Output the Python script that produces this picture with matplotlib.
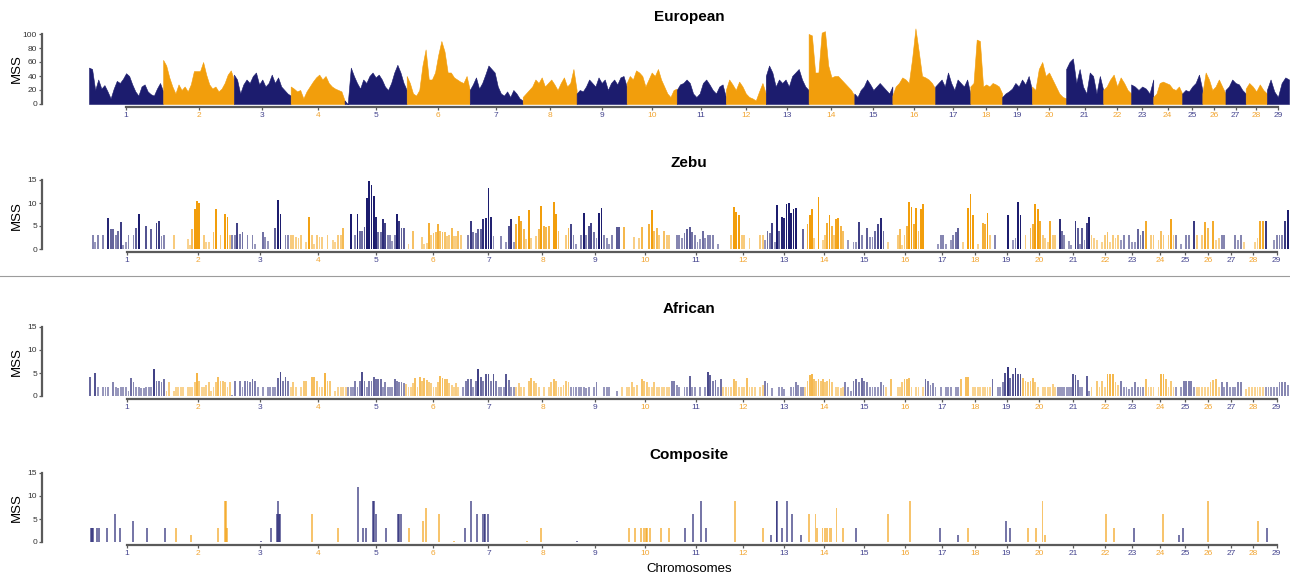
import numpy as np
import matplotlib.pyplot as plt
from matplotlib.colors import to_rgba
from matplotlib.lines import Line2D

plt.rcParams['font.family'] = ['Liberation Sans', 'DejaVu Sans']

NAVY, ORANGE = "#1C1C6E", "#F29E0C"
TICK_NAVY, TICK_ORANGE = "#45458F", "#F2A531"
AXIS_C = "#5A5A5A"

CHROMS = list(range(1, 30))
# chromosome lengths (Mb) used by the Zebu / African / Composite scans
CHR_LEN = np.array([158.5, 136.2, 121.0, 120.0, 120.1, 117.8, 110.7, 113.3, 105.5, 103.3,
                    107.0, 87.2, 83.5, 82.4, 85.0, 81.7, 73.2, 65.8, 63.4, 72.0,
                    69.9, 60.8, 52.5, 62.3, 42.4, 52.0, 45.6, 45.9, 51.1])
# the European scan has its own (window based) chromosome extents
EUR_CHR_LEN = np.array([154, 147, 118, 112, 129, 131, 110, 112, 104, 104, 102, 83, 89, 95, 79,
                        89, 73, 66, 62, 71, 77, 58, 46, 60, 42, 48, 42, 44, 46])

# European MSS profile, evenly spaced samples along each chromosome
EUR_MSS = [
    [52, 50, 20, 35, 22, 27, 18, 8, 22, 33, 30, 36, 44, 40, 28, 18, 12, 25, 28, 18, 14, 12, 22, 30, 18],
    [63, 55, 38, 25, 15, 28, 20, 25, 18, 28, 47, 47, 47, 60, 42, 28, 22, 25, 18, 22, 30, 42, 48, 35],
    [42, 35, 15, 28, 35, 30, 40, 45, 28, 35, 25, 30, 42, 30, 38, 25, 20, 15, 12],
    [25, 22, 18, 20, 8, 18, 25, 32, 38, 42, 35, 40, 30, 25, 22, 20, 18, 5],
    [5, 0, 52, 40, 30, 22, 35, 30, 40, 45, 38, 42, 35, 25, 20, 30, 45, 56, 45, 30, 20],
    [40, 30, 15, 12, 20, 55, 78, 35, 35, 45, 70, 90, 75, 45, 45, 38, 35, 32, 30, 40, 20],
    [20, 28, 38, 22, 30, 42, 55, 50, 45, 25, 15, 12, 18, 10, 20, 15, 8, 5],
    [10, 15, 20, 25, 35, 30, 38, 25, 30, 35, 28, 20, 30, 38, 25, 30, 50, 20],
    [15, 20, 18, 25, 35, 30, 25, 38, 30, 35, 20, 30, 35, 28, 38, 40, 25],
    [30, 40, 35, 48, 45, 40, 25, 35, 45, 40, 50, 35, 25, 15, 10, 20, 22],
    [20, 28, 30, 35, 30, 15, 10, 15, 30, 35, 28, 20, 15, 25, 28, 10],
    [20, 35, 28, 20, 32, 25, 15, 10, 8, 5, 18, 30, 15],
    [40, 55, 45, 25, 35, 30, 35, 25, 40, 45, 50, 35, 25, 20],
    [100, 98, 45, 45, 102, 104, 55, 38, 40, 40, 35, 30, 25, 20, 12],
    [15, 10, 20, 25, 35, 28, 20, 25, 30, 25, 20, 15, 25],
    [12, 25, 30, 38, 35, 30, 65, 108, 75, 40, 38, 35, 30, 22],
    [25, 30, 35, 25, 45, 30, 20, 35, 30, 25, 35, 15],
    [25, 30, 92, 90, 25, 28, 25, 30, 28, 25, 15],
    [10, 15, 18, 22, 30, 25, 35, 28, 40, 20],
    [25, 20, 50, 60, 40, 45, 35, 25, 15, 10, 8],
    [50, 60, 65, 30, 50, 25, 15, 45, 40, 15, 40, 20],
    [20, 25, 35, 42, 25, 38, 30, 20, 15],
    [28, 25, 20, 25, 22, 15, 35],
    [10, 15, 30, 32, 30, 28, 22, 20, 25, 15],
    [15, 20, 18, 25, 30, 42, 20],
    [15, 45, 35, 20, 25, 35, 25, 15],
    [20, 25, 35, 30, 28, 20, 15],
    [22, 30, 25, 18, 28, 20, 15],
    [20, 35, 18, 10, 30, 38, 35],
]

# Zebu MSS, consecutive windows along each chromosome (0 = no signal)
ZEBU_MSS = [
    [0, 3, 1.6, 3, 0, 3, 0, 6.8, 4.3, 4.3, 3, 4, 5.9, 0.8, 1.6, 3, 0, 3, 4.5, 7.6, 0, 0, 5, 0, 4.4, 0, 5.7, 6.1, 2.8, 3],
    [0, 0, 0, 3, 0, 0, 0, 0, 0, 2.2, 0.9, 4.3, 8.7, 10.5, 10.1, 0, 3, 1.6, 1.6, 0, 3.8, 8.6, 0, 3, 0, 7.6, 7, 3],
    [3, 3, 5.7, 3.2, 3.8, 0, 3, 0, 3, 1, 0, 0, 3.8, 2.7, 1.8, 0, 0, 4.5, 10.7, 7.7, 0, 3, 3],
    [3, 3, 2.7, 2.5, 3, 0, 1.6, 6.9, 3, 1, 3, 2.7, 2.7, 0, 3, 0, 2, 1.6, 3, 3, 4.5, 0],
    [0, 7.7, 0, 3, 7.6, 4, 4, 4.7, 11, 14.8, 14, 11.5, 7, 3.8, 3.8, 6.5, 5.7, 3, 3, 1.7, 3, 7.7, 6, 4.5, 4.6],
    [0, 1, 0, 3.9, 0, 0, 0, 2.7, 1, 1.2, 5.7, 3, 3.5, 3.8, 5.5, 4, 3.8, 3.8, 2.8, 3, 4.5, 2.8, 2.8, 4, 3],
    [0, 0, 3, 6, 3.8, 3.4, 4.4, 4.4, 6.5, 6.8, 13.2, 7, 2.8, 0, 0, 2.8, 0, 1.6, 5, 6.5, 1.6],
    [5.4, 7.2, 6, 4.4, 2.2, 8.5, 2.5, 0, 2.8, 4.4, 9.3, 5, 4.7, 5, 0, 10.3, 7.7, 4, 0, 0, 3, 4.5],
    [5.5, 3, 1, 0, 3, 7.8, 3, 5, 5.6, 3.7, 2.5, 7.8, 8.9, 3, 2.5, 1, 3, 0, 4.8, 4.8],
    [0, 4.8, 0, 0, 0, 2.7, 0, 2.5, 4.8, 0, 0, 5.4, 8.5, 4, 4.5, 3, 0, 4, 3, 3],
    [0, 0, 3, 3, 2.5, 3.5, 4.4, 4.8, 3.8, 3, 1.5, 2.2, 4, 2.5, 3, 3, 3, 0, 1, 0],
    [0, 0, 0, 3, 9.2, 8, 7.5, 3, 3, 0, 2.5, 0, 0, 0, 3, 3],
    [2, 4, 3.5, 5.7, 1.6, 9.5, 4, 7, 6.8, 9.8, 10, 7.8, 8.8, 9, 0, 0, 4.3],
    [0, 5.5, 7.5, 8.8, 2.5, 0, 11.4, 0, 2, 3, 5.7, 7.3, 5, 3, 6.5, 6.8, 5, 4],
    [0, 2, 0, 1.6, 1.6, 5.8, 3, 0, 4.6, 2.6, 2.6, 4, 5.5, 6.8, 4],
    [0, 1.6, 0, 0, 0, 3, 4.3, 0.8, 3, 5, 10.3, 9.2, 5.5, 9, 4, 8.8, 9.7],
    [0, 0, 0, 0, 0, 1, 3, 3, 1, 0, 2, 3, 3.8, 4.5],
    [0, 1.6, 0, 9, 12, 7.5, 0, 1, 0, 5.6, 5.5, 7.8, 3],
    [0, 3, 0, 0, 0, 0, 7.5, 0, 2, 2.5, 10.3, 7.5],
    [0, 3, 0, 4.5, 5.5, 9.8, 8.8, 6, 3, 2.5, 1.6, 6, 3, 3],
    [0, 6.5, 4, 3, 0, 1.8, 0.8, 0, 6, 4.5, 1, 4.5, 2, 5.7, 7],
    [3, 2.5, 2, 0, 1.6, 3, 3.8, 1.5, 3, 2.5, 3],
    [2, 3, 0, 3, 1.5, 1.5, 4.3, 3, 4],
    [6, 0, 3, 3, 0, 2, 4, 3, 0, 3, 6.5, 3],
    [3, 0, 1, 0, 3, 3, 0, 6],
    [3, 0, 3, 5.8, 4.5, 0, 6, 2, 2.5],
    [3, 3, 0, 0, 0, 3, 2, 3],
    [1.5, 0, 0, 0, 1.6, 2.5, 6, 6],
    [6, 0, 0, 2, 3, 3, 3, 6, 8.5],
]

# African MSS, consecutive windows along each chromosome
AFR_MSS = [
    [4.2, 0, 5, 2, 0, 2, 2, 2, 0, 3, 2, 1.7, 2, 2, 2, 1, 3.9, 3, 2, 2, 1.7, 1.7, 2, 2, 2, 5.8, 3.2, 3.2, 3, 3.8],
    [1, 3, 0, 1, 2, 2, 2, 2, 0, 2, 2, 2, 3, 5, 3.2, 2, 2, 2.5, 3, 1, 2, 3, 4.2, 3.2, 3.2, 3, 2, 3],
    [0.3, 3.2, 0, 3.2, 2, 3.2, 3.2, 3, 3.8, 3.2, 2, 0, 2, 0, 2, 2, 2, 2, 4, 5.3, 3.2, 4.2, 3.2],
    [2, 3, 2, 0, 2, 3.2, 3.2, 0, 4.2, 4.2, 3.2, 2, 2, 5, 3.2, 3.2, 0, 1, 2, 2, 2, 2],
    [2, 2, 2, 3.2, 2, 3.2, 5.2, 3.2, 2, 3.2, 3.2, 4.2, 3.8, 3.8, 3.8, 2, 3, 2, 2, 2, 3.8, 3.2, 3, 3, 2.8],
    [2.7, 2, 2, 2.8, 4, 2, 4.2, 3.2, 4, 3.5, 3, 2.8, 2, 2, 3, 4.4, 4, 3.8, 3.8, 2.8, 2.5, 2, 2.8, 2, 0],
    [2, 3.2, 3.8, 3.8, 2, 3.2, 5.8, 4.2, 3.2, 4.8, 4.8, 3.2, 4.8, 3.2, 2, 2, 2, 4.8, 3.5, 2, 2],
    [2, 2.8, 2, 2, 0, 3.2, 4, 3.2, 2.8, 2, 0, 2, 0, 2, 3, 3.8, 3.2, 2, 2, 2.5, 3.2, 3],
    [2, 2, 2, 2, 2, 2, 1.8, 2, 0, 2, 3, 0, 0, 2, 2, 2, 0, 0, 1, 0],
    [2, 0, 2, 2, 3, 2, 2.5, 0, 3.8, 3.2, 3, 2, 2, 3, 2, 2, 2, 2, 2, 2],
    [3.2, 3.2, 2.5, 2, 0, 2, 2, 4.3, 2, 2, 0, 2, 0, 2, 5.3, 4.5, 3.2, 3.5, 2, 3.8],
    [2, 2, 2, 2, 3.8, 3.2, 2, 2, 2, 4, 2, 2, 2, 0, 2, 2.5],
    [3.2, 2.8, 0, 1.8, 0, 0, 2, 2, 1.5, 0, 0, 2, 2, 3, 2.5, 2, 2],
    [2, 3.2, 4.5, 4.8, 3.8, 3.2, 3.8, 3.2, 3.8, 3, 3.2, 3.8, 3, 0, 2, 2, 1.8, 2],
    [3, 2, 1, 3.2, 3.8, 3, 4, 3.2, 3, 2, 2, 2, 2, 3, 2.5],
    [2, 0, 3.8, 0, 0, 2, 2, 3, 3.8, 3.8, 4, 2, 0, 2, 2, 0, 2],
    [3.8, 3.2, 2.5, 2.8, 2, 0, 2, 0, 2, 2, 2, 0, 2, 2],
    [3.8, 0, 4.2, 4.2, 0, 2, 2, 2, 2, 2, 2, 2, 2],
    [3.8, 0, 2, 2, 3, 5, 6.2, 4, 4.8, 6, 4.8, 4.8],
    [4, 3.2, 3, 3.2, 4, 3, 2, 0, 2, 2, 2, 2, 2.7, 2],
    [2, 2, 2, 2, 2, 2, 2, 4.8, 4.5, 3.5, 2, 2, 0, 4.4, 1],
    [2, 0, 3.2, 2, 3.2, 2, 4.8, 4.8, 4.8, 3, 2.5],
    [3.2, 2, 2, 1.5, 2, 3, 2, 2, 2],
    [3.8, 2, 2, 2, 0, 2, 4.8, 4.8, 3.8, 2, 3.2, 2],
    [2, 0, 2, 3.2, 3.2, 3.2, 3.2, 2],
    [2, 2, 2, 2, 2, 3, 3.5, 3.8, 2],
    [3, 2, 3, 2, 2, 2, 3, 3],
    [0, 1.5, 2, 2, 2, 2, 2, 2],
    [2, 2, 2, 2, 2, 3, 3, 3, 2.5],
]

# Composite: sparse significant windows (chromosome, position in Mb, MSS)
COMP_CHR = [1] * 11 + [2] * 6 + [3] * 6 + [4] * 2 + [5] * 10 + [6] * 5 + [7] * 7 + [8] * 2 + [9] + \
           [10] * 9 + [11] * 4 + [12] * 2 + [13] * 7 + [14] * 10 + [15] + [16] * 2 + [17] * 2 + [18] + \
           [19] * 2 + [20] * 4 + [22] * 2 + [23] + [24] + [25] * 2 + [26] + [28] + [29]
COMP_POS = [4, 6, 8, 17, 21, 37, 54, 64, 92, 120, 157,
            22, 53, 109, 124, 126, 128,
            62, 83, 95, 97.5, 99.6, 101.7,
            47, 101,
            22, 33, 39, 53.5, 55.6, 59.8, 80.5, 105, 107.5, 111.6,
            8, 37, 43, 71, 101.5,
            6.4, 20, 31, 43, 46, 48, 55,
            24, 53.5,
            15.6,
            17, 30, 42, 49, 52.5, 55, 61, 83.6, 101,
            30, 47, 62.6, 73.6,
            28, 86,
            13.7, 26, 28, 36.5, 48, 59, 76.5,
            9.5, 23.4, 26.8, 38, 42.7, 48, 53, 56.6, 67, 81,
            24.7,
            7, 53,
            32, 70,
            18,
            30, 39,
            12, 29, 43, 48.5,
            32.6, 49,
            30.5,
            37,
            8.5, 17.5,
            27,
            33,
            4.5]
COMP_MSS = [3, 3, 3, 3, 3, 3, 6, 3, 4.5, 3, 3,
            3, 1.5, 3, 9, 9, 3,
            0.3, 3, 6, 9, 6, 6,
            6, 3,
            12, 3, 3, 9, 9, 6, 3, 6, 6, 6,
            3, 4.5, 7.5, 6, 0.3,
            3, 9, 6, 6, 6, 6, 6,
            0.3, 3,
            0.2,
            3, 3, 3, 3, 3, 3, 3, 3, 3,
            3, 6, 9, 3,
            9, 3,
            1.5, 9, 9, 3, 9, 6, 1.5,
            6, 6, 3, 3, 3, 3, 3, 3, 7.5, 3,
            3,
            6, 9,
            3, 1.5,
            3,
            4.5, 3,
            3, 3, 9, 1.5,
            6, 3,
            3,
            6,
            1.5, 3,
            9,
            4.5,
            3]

W, H = 1290, 577
fig = plt.figure(figsize=(W / 100, H / 100), dpi=100)


def _starts(lens):
    return np.concatenate([[0], np.cumsum(lens)[:-1]])


def _panel(top, bottom, lens, ymax, yticks, title, title_y, label_y):
    ax = fig.add_axes([89 / W, 1 - bottom / H, 1200 / W, (bottom - top) / H])
    starts = _starts(lens)
    mids = starts + lens / 2
    ax.set_xlim(0, lens.sum())
    ax.set_ylim(0, ymax)
    ax.spines[['top', 'right']].set_visible(False)
    for s in ['left', 'bottom']:
        ax.spines[s].set_color(AXIS_C)
        ax.spines[s].set_linewidth(1.6)
    ax.spines['left'].set_position(('outward', 33.8))
    ax.spines['left'].set_bounds(yticks[0], yticks[-1])
    ax.spines['bottom'].set_position(('outward', 1.8))
    ax.spines['bottom'].set_bounds(mids[0], mids[-1])
    ax.set_xticks(mids)
    ax.set_xticklabels([str(c) for c in CHROMS])
    for c, lbl in zip(CHROMS, ax.get_xticklabels()):
        lbl.set_color(TICK_NAVY if c % 2 else TICK_ORANGE)
    ax.set_yticks(yticks)
    ax.tick_params(axis='both', labelsize=6, length=2.2, width=0.9, color=AXIS_C, pad=1.5)
    ax.tick_params(axis='y', labelcolor="#333333")
    fig.text(689 / W, 1 - title_y / H, title, ha='center', va='center',
             fontsize=11, fontweight='bold')
    fig.text(17 / W, 1 - label_y / H, "MSS", rotation=90, ha='center', va='center', fontsize=9.5)
    return ax, starts


def _shade(color, h):
    return to_rgba(color, float(np.clip(0.2 + h / 9.0, 0.45, 1.0)))


# ---- European: continuous profile
ax, starts = _panel(23.5, 104, EUR_CHR_LEN, 115, [0, 20, 40, 60, 80, 100], "European", 17, 69)
for i, vals in enumerate(EUR_MSS):
    x = np.linspace(starts[i], starts[i] + EUR_CHR_LEN[i], len(vals))
    col = NAVY if i % 2 == 0 else ORANGE
    ax.fill_between(x, 0, vals, color=col, lw=0.4, edgecolor=col)

# ---- Zebu / African: windowed bars
for data, top, bottom, title, ty, ly in [(ZEBU_MSS, 175.4, 249, "Zebu", 163, 216),
                                         (AFR_MSS, 322.4, 396, "African", 309, 362)]:
    ax, starts = _panel(top, bottom, CHR_LEN, 16, [0, 5, 10, 15], title, ty, ly)
    for i, vals in enumerate(data):
        vals = np.asarray(vals, float)
        n = len(vals)
        x = starts[i] + (np.arange(n) + 0.5) * CHR_LEN[i] / n
        keep = vals > 0
        col = NAVY if i % 2 == 0 else ORANGE
        ax.bar(x[keep], vals[keep], width=3.8, color=[_shade(col, h) for h in vals[keep]], lw=0)

# ---- Composite: sparse bars (overlapping windows darken)
ax, starts = _panel(468.4, 542, CHR_LEN, 16, [0, 5, 10, 15], "Composite", 455, 508)
cc = np.array(COMP_CHR)
xs = starts[cc - 1] + np.array(COMP_POS)
hs = np.array(COMP_MSS, float)
cols = [to_rgba(NAVY if c % 2 else ORANGE, 0.6) for c in cc]
ax.bar(xs, hs, width=4.0, color=cols, lw=0)
fig.text(689 / W, 1 - 569 / H, "Chromosomes", ha='center', va='center', fontsize=9.5)

# grey separator between the Zebu and African panels
fig.add_artist(Line2D([0, 1], [1 - 276 / H] * 2, transform=fig.transFigure,
                      color="#9c9c9c", lw=0.8))

fig.savefig("out.png", dpi=100)
